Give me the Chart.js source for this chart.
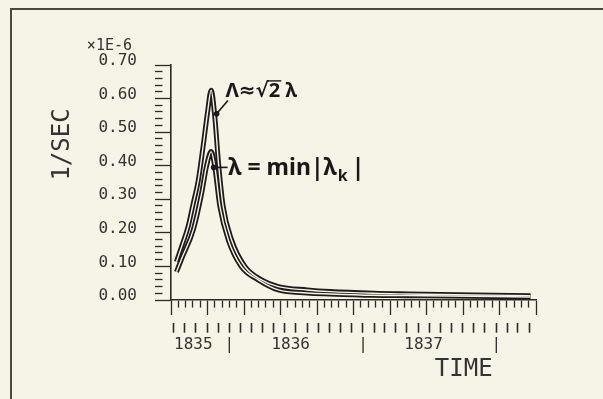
<!DOCTYPE html>
<html>
<head>
<meta charset="utf-8">
<script src="https://cdn.jsdelivr.net/npm/chart.js@4.4.1/dist/chart.umd.min.js"></script>
<style>
  html, body { margin: 0; padding: 0; background: #f6f3e7; }
  #wrap { position: relative; width: 603px; height: 399px; overflow: hidden; }
  #frame { position: absolute; left: 10px; top: 8px; width: 640px; height: 440px;
           border-top: 2px solid #4a4843; border-left: 2px solid #4a4843; }
  canvas { position: absolute; left: 0; top: 0; }
</style>
</head>
<body>
<div id="wrap"><div id="frame"></div><canvas id="c" width="603" height="399"></canvas></div>
<script>
// ---------- data (x = days from start of record, y = 1/SEC ×1E-6) ----------
const bigLambdaDays   = [15, 30, 47, 60, 75, 88, 100, 110, 120, 130, 143, 166, 203, 248, 294, 373, 436, 554, 647, 828, 985];
const bigLambdaValues = [0.114, 0.162, 0.219, 0.283, 0.358, 0.458, 0.558, 0.625, 0.546, 0.409, 0.278, 0.179, 0.099, 0.060, 0.040, 0.030, 0.025, 0.020, 0.018, 0.015, 0.013];

const lambdaDays   = [15, 30, 61, 84, 97, 110, 120, 134, 157, 193, 239, 294, 373, 436, 554, 647, 828, 985];
const lambdaValues = [0.084, 0.125, 0.209, 0.318, 0.397, 0.442, 0.397, 0.278, 0.179, 0.099, 0.060, 0.030, 0.021, 0.018, 0.014, 0.013, 0.011, 0.009];

const markerDays   = [125, 117];
const markerValues = [0.555, 0.395];

const yTickValues = [0.0, 0.1, 0.2, 0.3, 0.4, 0.5, 0.6, 0.7];
const yTickLabels = ['0.00', '0.10', '0.20', '0.30', '0.40', '0.50', '0.60', '0.70'];

const monthStartDays = [7, 38, 68, 99, 129, 160, 191, 220, 251, 281, 312, 342, 373, 404, 434, 465, 495,
                        526, 557, 585, 616, 646, 677, 707, 738, 769, 799, 830, 860, 891, 922, 950, 981];
const yearTickDays   = [61, 160, 328, 526, 692, 891];
const yearTickLabels = ['1835', '|', '1836', '|', '1837', '|'];

const yUnitLabel = '×1E-6';
const yTitle = '1/SEC';
const xTitle = 'TIME';
const upperLabel = ['Λ≈√', '2', ' λ'];
const lowerLabel = ['λ = min|λ', 'k', '|'];

// ---------- styling ----------
const INK = '#2b2a27';
const LINE = '#1d1c1a';
const PAPER = '#f6f3e7';
const MONO = 'DejaVu Sans Mono';
const SANS = '"Noto Sans", "DejaVu Sans", sans-serif';

const xMinor = [];
for (let d = 0; d <= 1000; d += 20) xMinor.push(d);
const yMinor = [];
for (let i = 0; i <= 35; i++) yMinor.push(i / 50);

const pts = (xs, ys) => xs.map((x, i) => ({ x: x, y: ys[i] }));

const annotationPlugin = {
  id: 'annot',
  afterDatasetsDraw(chart) {
    const ctx = chart.ctx, xs = chart.scales.x, ys = chart.scales.y;
    const px = d => xs.getPixelForValue(d), py = v => ys.getPixelForValue(v);
    ctx.save();
    ctx.fillStyle = '#1a1917';
    ctx.strokeStyle = '#1a1917';
    ctx.lineWidth = 1.6;
    ctx.textBaseline = 'alphabetic';
    ctx.textAlign = 'left';

    // upper label  Λ≈√2 λ
    ctx.beginPath();
    ctx.moveTo(px(markerDays[0]), py(markerValues[0]));
    ctx.lineTo(px(156), py(0.594));
    ctx.stroke();
    let x0 = px(149), y0 = py(0.605);
    ctx.font = 'bold 20px ' + SANS;
    ctx.fillText(upperLabel[0], x0, y0);
    let w = ctx.measureText(upperLabel[0]).width;
    ctx.fillText(upperLabel[1], x0 + w, y0);
    const w2 = ctx.measureText(upperLabel[1]).width;
    ctx.lineWidth = 1.4;
    ctx.beginPath();
    ctx.moveTo(x0 + w - 1, y0 - 16);
    ctx.lineTo(x0 + w + w2 + 1, y0 - 16);
    ctx.stroke();
    ctx.fillText(upperLabel[2], x0 + w + w2, y0);

    // lower label  λ = min|λk|
    ctx.lineWidth = 1.6;
    ctx.beginPath();
    ctx.moveTo(px(markerDays[1]), py(markerValues[1]));
    ctx.lineTo(px(155), py(markerValues[1]));
    ctx.stroke();
    x0 = px(157); y0 = py(0.372);
    ctx.font = 'bold 23px ' + SANS;
    ctx.fillText(lowerLabel[0], x0, y0);
    w = ctx.measureText(lowerLabel[0]).width;
    ctx.font = 'bold 16px ' + SANS;
    ctx.fillText(lowerLabel[1], x0 + w + 1, y0 + 6);
    const wk = ctx.measureText(lowerLabel[1]).width;
    ctx.font = 'bold 23px ' + SANS;
    ctx.fillText(lowerLabel[2], x0 + w + wk + 5, y0);

    // unit label above the y axis
    ctx.font = '15px ' + MONO;
    ctx.fillStyle = '#333';
    ctx.textAlign = 'right';
    ctx.fillText(yUnitLabel, ys.right - 39, py(0.7) - 15);
    ctx.restore();
  }
};

new Chart(document.getElementById('c'), {
  type: 'line',
  data: {
    datasets: [
      { label: 'Λ outline', data: pts(bigLambdaDays, bigLambdaValues), borderColor: LINE, borderWidth: 5,
        pointRadius: 0, cubicInterpolationMode: 'monotone', fill: false, order: 3 },
      { label: 'λ outline', data: pts(lambdaDays, lambdaValues), borderColor: LINE, borderWidth: 5,
        pointRadius: 0, cubicInterpolationMode: 'monotone', fill: false, order: 3 },
      { label: 'Λ', data: pts(bigLambdaDays, bigLambdaValues), borderColor: PAPER, borderWidth: 1.4,
        pointRadius: 0, cubicInterpolationMode: 'monotone', fill: false, order: 2 },
      { label: 'λ', data: pts(lambdaDays, lambdaValues), borderColor: PAPER, borderWidth: 1.4,
        pointRadius: 0, cubicInterpolationMode: 'monotone', fill: false, order: 2 },
      { label: 'markers', type: 'scatter', data: pts(markerDays, markerValues), showLine: false,
        pointRadius: 2.8, pointBackgroundColor: '#1a1917', pointBorderWidth: 0, order: 1 }
    ]
  },
  options: {
    responsive: false,
    devicePixelRatio: 1,
    animation: false,
    events: [],
    layout: { padding: { left: 0, top: 65, right: 67, bottom: 14.9 } },
    plugins: { legend: { display: false }, tooltip: { enabled: false }, title: { display: false } },
    scales: {
      x: {
        type: 'linear', min: 0, max: 1000, position: 'bottom', weight: 1,
        afterBuildTicks: s => { s.ticks = xMinor.map(v => ({ value: v })); },
        afterFit: s => { s.height = 22.7; },
        border: { display: true, color: INK, width: 1.6 },
        grid: { display: true, drawOnChartArea: false, drawTicks: true, tickLength: 15,
                tickColor: INK, tickWidth: 1.3,
                tickBorderDash: c => (c.tick && c.tick.value % 100 === 0) ? [] : [7, 40] },
        ticks: { display: false }
      },
      x2: {
        type: 'linear', min: 0, max: 1000, position: 'bottom', weight: 2,
        afterBuildTicks: s => { s.ticks = monthStartDays.map(v => ({ value: v })); },
        afterFit: s => { s.height = 12; },
        border: { display: false },
        grid: { display: true, drawOnChartArea: false, drawTicks: true, tickLength: 10,
                tickColor: INK, tickWidth: 1.6 },
        ticks: { display: false }
      },
      x3: {
        type: 'linear', min: 0, max: 1000, position: 'bottom', weight: 3,
        afterBuildTicks: s => { s.ticks = yearTickDays.map(v => ({ value: v })); },
        afterFit: s => { s.height = 49.4; },
        border: { display: false },
        grid: { display: false, drawTicks: false },
        ticks: { autoSkip: false, maxRotation: 0, minRotation: 0, padding: 0.4, color: '#333',
                 font: { family: MONO, size: 16 },
                 callback: (v, i) => yearTickLabels[i] },
        title: { display: true, text: xTitle + '   ', align: 'end', color: '#333',
                 font: { family: MONO, size: 24 }, padding: { top: 0, bottom: 0 } }
      },
      y: {
        type: 'linear', min: 0, max: 0.7, position: 'left',
        afterBuildTicks: s => { s.ticks = yMinor.map(v => ({ value: v })); },
        afterFit: s => { s.width = 171; },
        border: { display: true, color: INK, width: 1.6 },
        grid: { display: true, drawOnChartArea: false, drawTicks: true, tickLength: 16,
                tickColor: INK, tickWidth: 1.3,
                tickBorderDash: c => {
                  if (!c.tick) return [];
                  return yTickValues.some(t => Math.abs(t - c.tick.value) < 1e-9) ? [] : [7.5, 40];
                } },
        ticks: { autoSkip: false, padding: 18, labelOffset: -4, color: '#333',
                 font: { family: MONO, size: 16 },
                 callback: v => {
                   const i = yTickValues.findIndex(t => Math.abs(t - v) < 1e-9);
                   return i >= 0 ? yTickLabels[i] : '';
                 } },
        title: { display: true, text: yTitle + '   ', align: 'end', color: '#333',
                 font: { family: MONO, size: 24 }, padding: { top: 48.6, bottom: 0 } }
      }
    }
  },
  plugins: [annotationPlugin]
});
</script>
</body>
</html>
